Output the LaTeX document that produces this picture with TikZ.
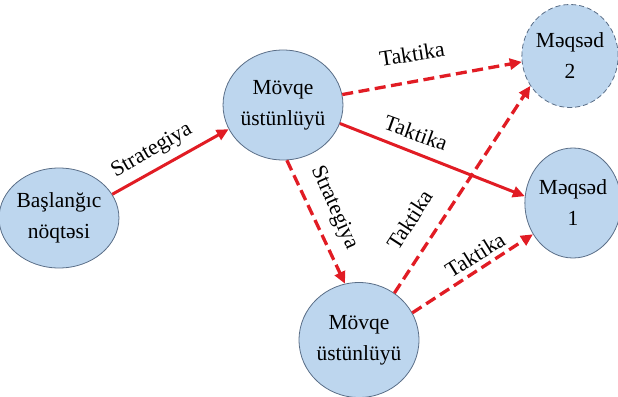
\documentclass[tikz,border=0pt]{standalone}
\usepackage{fontspec}
\setmainfont{Liberation Serif}
\usetikzlibrary{shapes.geometric,arrows.meta}
\definecolor{nodefill}{RGB}{189,214,238}
\definecolor{nodeline}{RGB}{90,110,135}
\definecolor{arrred}{RGB}{225,28,36}
\tikzset{
  bubble/.style={ellipse,draw=nodeline,fill=nodefill,line width=0.8pt,inner sep=0pt,align=center,font=\fontsize{21.5}{31}\selectfont},
  goalbubble/.style={bubble,dash pattern=on 5pt off 3pt},
  solidarrow/.style={draw=arrred,line width=3pt,-{Triangle[length=12pt,width=11pt]}},
  dasharrow/.style={solidarrow,line width=3.3pt,dash pattern=on 11pt off 5.5pt},
  lbl/.style={font=\fontsize{22}{24}\selectfont,inner sep=0pt}
}
\begin{document}
\begin{tikzpicture}[x=1pt,y=-1pt]
\useasboundingbox (0,0) rectangle (618,396);
\node[bubble,minimum width=98pt,minimum height=100pt] (start) at (59,218) {Başlanğıc\\nöqtəsi};
\node[bubble,minimum width=116pt,minimum height=110pt] (m1) at (283,105) {Mövqe\\üstünlüyü};
\node[bubble,minimum width=113pt,minimum height=115pt] (m2) at (359,340) {Mövqe\\üstünlüyü};
\node[goalbubble,minimum width=95pt,minimum height=103pt] (g2) at (570,56) {Məqsəd\\2};
\node[bubble,minimum width=86pt,minimum height=110pt] (g1) at (573,203) {Məqsəd\\1};

\draw[solidarrow] (start.24) -- (m1.204);
\draw[dasharrow] (m1.10) -- (g2.187);
\draw[solidarrow] (m1.-18) -- (g1.172);
\draw[dasharrow] (m1.-86) -- (m2.104);
\draw[dasharrow] (m2.53) -- (g2.217);
\draw[dasharrow] (m2.27) -- (g1.218);

\node[lbl,rotate=30] (l1) at (152,151) {Strategiya};
\node[lbl,rotate=9] (l2) at (412,54) {Taktika};
\node[lbl,rotate=-20] (l3) at (416,133) {Taktika};
\node[lbl,rotate=-66] (l4) at (334,208) {Strategiya};
\node[lbl,rotate=57] (l5) at (410,220) {Taktika};
\node[lbl,rotate=32] (l6) at (475,255) {Taktika};
\end{tikzpicture}
\end{document}
